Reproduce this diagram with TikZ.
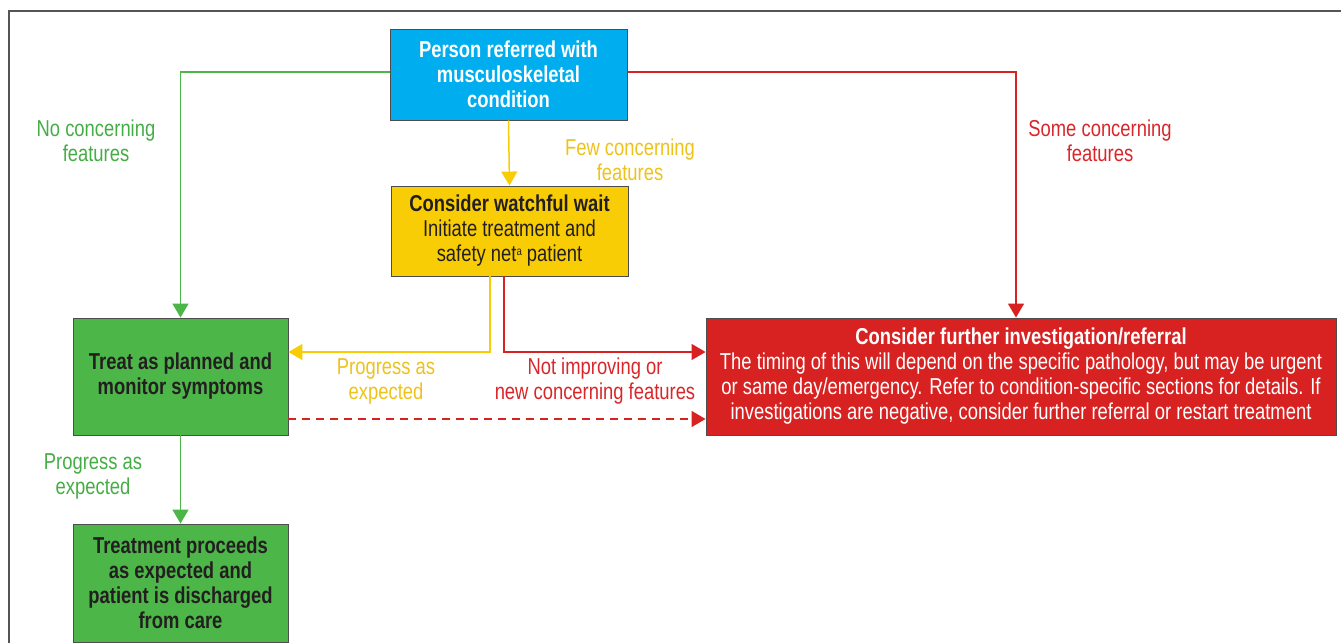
\documentclass[tikz,border=0pt]{standalone}
\usepackage{fontspec}
\setmainfont{Liberation Sans}[FakeStretch=0.8]
\usetikzlibrary{arrows.meta,calc}
\definecolor{cblue}{HTML}{00AEEF}
\definecolor{cyellow}{HTML}{F9CD06}
\definecolor{cgreen}{HTML}{4CB648}
\definecolor{cred}{HTML}{D82222}
\definecolor{tgreen}{HTML}{45AD45}
\definecolor{tyellow}{HTML}{EDC21A}
\definecolor{tred}{HTML}{D9262A}
\definecolor{ttext}{HTML}{231F20}
\definecolor{frame}{HTML}{555555}
\newcommand{\supa}{\raisebox{0.55ex}{\fontsize{12}{12}\selectfont a}}
\begin{document}
\begin{tikzpicture}[x=1pt,y=-1pt,
  font=\fontsize{23}{25}\selectfont,
  box/.style={draw=ttext!80, line width=0.9pt, rectangle, inner sep=0pt, align=center},
  conn/.style={line width=1.5pt, -{Triangle[length=14pt,width=16pt]}},
  lbl/.style={align=center, inner sep=0pt}]
\useasboundingbox (0,0) rectangle (1341,643);
\draw[frame, line width=1.5pt] (9,643) -- (9,11) -- (1341,11);

\node[box, fill=cblue, text=white, minimum width=237pt, minimum height=91pt] (blue) at (508.5,74.5)
  {\bfseries Person referred with\\ \bfseries musculoskeletal\\ \bfseries condition};
\node[box, fill=cyellow, text=ttext, minimum width=237pt, minimum height=90pt] (yellow) at (509.5,231)
  {\bfseries Consider watchful wait\\ Initiate treatment and\\ safety net\supa{} patient};
\node[box, fill=cgreen, text=ttext, minimum width=215pt, minimum height=117pt] (g1) at (180.5,376.5)
  {\bfseries Treat as planned and\\ \bfseries monitor symptoms};
\node[box, fill=cgreen, text=ttext, minimum width=215pt, minimum height=118pt] (g2) at (180.5,583)
  {\bfseries Treatment proceeds\\ \bfseries as expected and\\ \bfseries patient is discharged\\ \bfseries from care};
\node[box, fill=cred, text=white, minimum width=630pt, minimum height=117pt] (red) at (1021,376.5)
  {\bfseries Consider further investigation/referral\\
   The timing of this will depend on the specific pathology, but may be urgent\\
   or same day/emergency. Refer to condition-specific sections for details. If\\
   investigations are negative, consider further referral or restart treatment};

% connectors
\draw[conn, cgreen] ([yshift=2.5pt]blue.west) -| (g1.north);
\draw[conn, cred] ([yshift=2.5pt]blue.east) -| ([xshift=-5pt]red.north);
\draw[conn, cyellow] (blue.south) -- (yellow.north);
\draw[conn, cyellow] ([xshift=-19.5pt]yellow.south) |- ([yshift=24.5pt]g1.east);
\draw[conn, cred] ([xshift=-5.5pt]yellow.south) |- ([yshift=24.5pt]red.west);
\draw[cred, line width=1.3pt, dash pattern=on 8pt off 6pt, -{Triangle[length=14pt,width=16pt]}] ([yshift=-42.5pt]g1.east) -- ([yshift=-42.5pt]red.west);
\draw[conn, cgreen] (g1.south) -- (g2.north);

% labels
\node[lbl, text=tgreen] (l1) at (96,140.5) {No concerning\\features};
\node[lbl, text=tyellow] (l2) at (630,159.5) {Few concerning\\features};
\node[lbl, text=tred] (l3) at (1100,140.5) {Some concerning\\features};
\node[lbl, text=tyellow] (l4) at (386,381.5) {Progress as\\expected};
\node[lbl, text=tred] (l5) at (595,381.5) {Not improving or\\new concerning features};
\node[lbl, text=tgreen] (l6) at (93,476.5) {Progress as\\expected};
\end{tikzpicture}
\end{document}
